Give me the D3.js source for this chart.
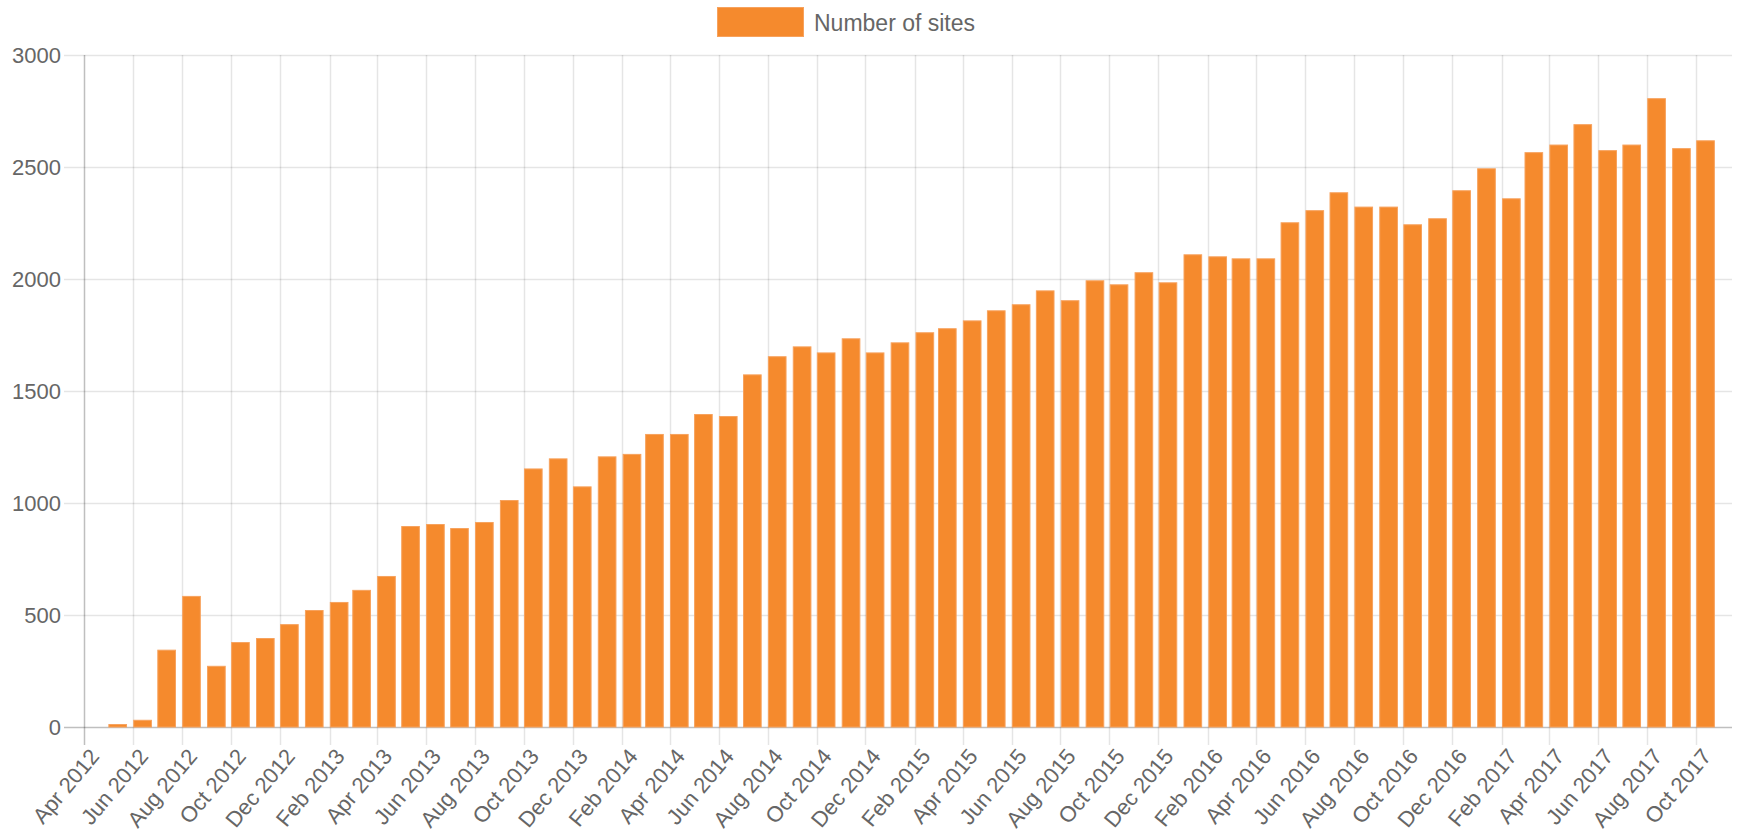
<!DOCTYPE html>
<html>
<head>
<meta charset="utf-8">
<script src="https://cdn.jsdelivr.net/npm/d3@7"></script>
<style>
  html, body { margin: 0; padding: 0; background: #fff; }
  svg { display: block; font-family: "Liberation Sans", Arial, Helvetica, sans-serif; }
</style>
</head>
<body>
<svg id="chart"></svg>
<script>
const width = 1739;
const height = 837;

// one bar per month, May 2012 .. Oct 2017
const months = [
    "2012-05", "2012-06", "2012-07", "2012-08", "2012-09", "2012-10", "2012-11", "2012-12",
    "2013-01", "2013-02", "2013-03", "2013-04", "2013-05", "2013-06", "2013-07", "2013-08", "2013-09", "2013-10", "2013-11", "2013-12",
    "2014-01", "2014-02", "2014-03", "2014-04", "2014-05", "2014-06", "2014-07", "2014-08", "2014-09", "2014-10", "2014-11", "2014-12",
    "2015-01", "2015-02", "2015-03", "2015-04", "2015-05", "2015-06", "2015-07", "2015-08", "2015-09", "2015-10", "2015-11", "2015-12",
    "2016-01", "2016-02", "2016-03", "2016-04", "2016-05", "2016-06", "2016-07", "2016-08", "2016-09", "2016-10", "2016-11", "2016-12",
    "2017-01", "2017-02", "2017-03", "2017-04", "2017-05", "2017-06", "2017-07", "2017-08", "2017-09", "2017-10"
];
const sites = [
    11, 30, 343, 583, 271, 377, 395, 457,
    520, 556, 610, 672, 895, 904, 886, 913, 1011, 1152, 1197, 1072,
    1206, 1217, 1306, 1306, 1395, 1386, 1572, 1653, 1697, 1670, 1733, 1670,
    1715, 1760, 1778, 1813, 1858, 1885, 1947, 1903, 1992, 1974, 2028, 1983,
    2108, 2099, 2090, 2090, 2251, 2305, 2385, 2321, 2321, 2242, 2269, 2394,
    2492, 2358, 2564, 2598, 2689, 2573, 2598, 2805, 2582, 2617
];
const xTicks = [
    "2012-04", "2012-06", "2012-08", "2012-10", "2012-12",
    "2013-02", "2013-04", "2013-06", "2013-08", "2013-10", "2013-12",
    "2014-02", "2014-04", "2014-06", "2014-08", "2014-10", "2014-12",
    "2015-02", "2015-04", "2015-06", "2015-08", "2015-10", "2015-12",
    "2016-02", "2016-04", "2016-06", "2016-08", "2016-10", "2016-12",
    "2017-02", "2017-04", "2017-06", "2017-08", "2017-10"
];
const yTicks = [0, 500, 1000, 1500, 2000, 2500, 3000];
const seriesName = "Number of sites";

const parseMonth = d3.utcParse("%Y-%m");
const fmt = d3.utcFormat("%b %Y");

const plotLeft = 84, plotRight = 1732, plotTop = 55, plotBottom = 727;

const x = d3.scaleUtc()
    .domain([parseMonth("2012-04"), new Date(Date.UTC(2017, 10, 15))])
    .range([plotLeft, plotRight]);
const y = d3.scaleLinear().domain([0, 3000]).range([plotBottom, plotTop]);

const svg = d3.select("#chart").attr("width", width).attr("height", height);
svg.append("rect").attr("width", width).attr("height", height).attr("fill", "#fff");

const crisp = v => Math.round(v) + 0.5;

// horizontal grid (with little tick marks left of the axis)
svg.append("g").selectAll("line")
    .data(yTicks)
    .enter().append("line")
    .attr("x1", plotLeft - 20).attr("x2", plotRight)
    .attr("y1", d => crisp(y(d))).attr("y2", d => crisp(y(d)))
    .attr("stroke", d => d === 0 ? "rgba(0,0,0,0.25)" : "rgba(0,0,0,0.1)")
    .attr("stroke-width", 1.5);

// vertical grid every two months
svg.append("g").selectAll("line")
    .data(xTicks)
    .enter().append("line")
    .attr("x1", d => crisp(x(parseMonth(d)))).attr("x2", d => crisp(x(parseMonth(d))))
    .attr("y1", plotTop).attr("y2", plotBottom + 18)
    .attr("stroke", (d, i) => i === 0 ? "rgba(0,0,0,0.25)" : "rgba(0,0,0,0.1)")
    .attr("stroke-width", 1.5);

// bars
const data = months.map((m, i) => ({ date: parseMonth(m), value: sites[i] }));
svg.append("g").selectAll("rect")
    .data(data)
    .enter().append("rect")
    .attr("x", d => x(d3.utcDay.offset(d.date, 1)))
    .attr("width", d => x(d3.utcDay.offset(d.date, 23)) - x(d3.utcDay.offset(d.date, 1)))
    .attr("y", d => y(d.value))
    .attr("height", d => y(0) - y(d.value))
    .attr("fill", "#f58a2d")
    .attr("stroke", "#f7a25d")
    .attr("stroke-width", 1);

// y axis labels
const yAxis = svg.append("g")
    .attr("transform", `translate(${plotLeft},0)`)
    .call(d3.axisLeft(y).tickValues(yTicks).tickFormat(d3.format("d")).tickSize(0).tickPadding(23));
yAxis.select(".domain").remove();
yAxis.selectAll("text")
    .attr("fill", "#666")
    .style("font-size", "22px")
    .style("font-family", "Liberation Sans, Arial, sans-serif");

// x axis labels, rotated
const xAxis = svg.append("g")
    .attr("transform", `translate(0,${plotBottom})`)
    .call(d3.axisBottom(x).tickValues(xTicks.map(parseMonth)).tickFormat(fmt).tickSize(0));
xAxis.select(".domain").remove();
xAxis.selectAll("text")
    .attr("fill", "#666")
    .style("font-size", "22px")
    .style("font-family", "Liberation Sans, Arial, sans-serif")
    .attr("text-anchor", "end")
    .attr("dy", "0.35em")
    .attr("y", 0)
    .attr("transform", "translate(10,25) rotate(-50)");

// legend
const legend = svg.append("g");
legend.append("rect")
    .attr("x", 717.5).attr("y", 7.5)
    .attr("width", 86).attr("height", 29)
    .attr("fill", "#f58a2d")
    .attr("stroke", "#f7a25d");
legend.append("text")
    .attr("x", 814).attr("y", 23)
    .attr("dy", "0.35em")
    .attr("fill", "#666")
    .style("font-size", "23px")
    .text(seriesName);
</script>
</body>
</html>
